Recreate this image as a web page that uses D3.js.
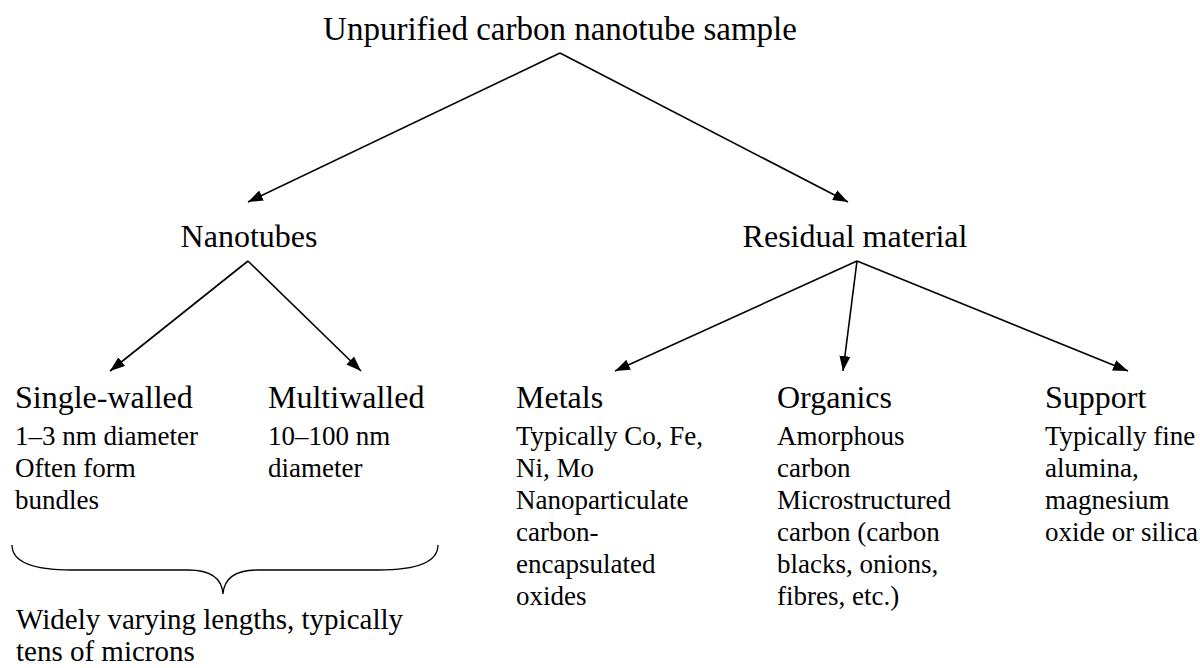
<!DOCTYPE html>
<html>
<head>
<meta charset="utf-8">
<title>carbon nanotube sample</title>
<script src="https://d3js.org/d3.v7.min.js"></script>
<style>
  body { margin: 0; background: #fff; }
  text { font-family: "Liberation Serif", "Times New Roman", serif; fill: #000; }
</style>
</head>
<body>
<svg width="1200" height="668"></svg>
<script>
// data
var title = "Unpurified carbon nanotube sample";
var groups = ["Nanotubes", "Residual material"];
var types = ["Single-walled", "Multiwalled", "Metals", "Organics", "Support"];
var typeGroup = [0, 0, 1, 1, 1];
var typeNotes = [
  ["1\u20133 nm diameter", "Often form", "bundles"],
  ["10\u2013100 nm", "diameter"],
  ["Typically Co, Fe,", "Ni, Mo", "Nanoparticulate", "carbon-", "encapsulated", "oxides"],
  ["Amorphous", "carbon", "Microstructured", "carbon (carbon", "blacks, onions,", "fibres, etc.)"],
  ["Typically fine", "alumina,", "magnesium", "oxide or silica"]
];
var braceNote = ["Widely varying lengths, typically", "tens of microns"];

var svg = d3.select("svg");

// layout scales
var levelY = d3.scaleOrdinal().domain([0, 1, 2]).range([40, 247, 408]);
var groupX = d3.scaleOrdinal().domain(groups).range([249, 855]);
var typeX = d3.scaleOrdinal().domain(types).range([15, 268, 516, 777, 1045]);
var groupTipX = d3.scaleOrdinal().domain(groups).range([248, 848]);
var typeTipX = d3.scaleOrdinal().domain(types).range([110, 361, 615, 843, 1128]);
var noteY = d3.scaleLinear().domain([0, 1]).range([445, 477]);

svg.append("defs").append("marker")
  .attr("id", "head")
  .attr("markerUnits", "userSpaceOnUse")
  .attr("viewBox", "0 0 15 11")
  .attr("refX", 15).attr("refY", 5.5)
  .attr("markerWidth", 15).attr("markerHeight", 11)
  .attr("orient", "auto")
  .append("path")
  .attr("d", "M0,0 L15,5.5 L0,11 Z")
  .attr("fill", "#000");

// title
var rootX = 560;
svg.append("text")
  .attr("x", rootX).attr("y", levelY(0))
  .attr("text-anchor", "middle")
  .attr("font-size", 33)
  .text(title);

// links root -> groups
var linkG = svg.append("g")
  .attr("stroke", "#000").attr("stroke-width", 1.6).attr("fill", "none");

linkG.selectAll("line.g")
  .data(groups)
  .enter().append("line")
  .attr("class", "g")
  .attr("x1", rootX).attr("y1", levelY(0) + 13)
  .attr("x2", function(d) { return groupTipX(d); })
  .attr("y2", levelY(1) - 45)
  .attr("marker-end", "url(#head)");

svg.selectAll("text.group")
  .data(groups)
  .enter().append("text")
  .attr("class", "group")
  .attr("x", function(d) { return groupX(d); })
  .attr("y", levelY(1))
  .attr("text-anchor", "middle")
  .attr("font-size", 32)
  .text(function(d) { return d; });

// links groups -> types
linkG.selectAll("line.t")
  .data(types)
  .enter().append("line")
  .attr("class", "t")
  .attr("x1", function(d, i) { return groupX(groups[typeGroup[i]]) + (typeGroup[i] ? 2 : -1); })
  .attr("y1", levelY(1) + 14)
  .attr("x2", function(d) { return typeTipX(d); })
  .attr("y2", levelY(2) - 37)
  .attr("marker-end", "url(#head)");

var typeG = svg.selectAll("g.type")
  .data(types)
  .enter().append("g")
  .attr("class", "type")
  .attr("transform", function(d) { return "translate(" + typeX(d) + ",0)"; });

typeG.append("text")
  .attr("y", levelY(2))
  .attr("font-size", 32)
  .text(function(d) { return d; });

typeG.selectAll("text.note")
  .data(function(d, i) { return typeNotes[i]; })
  .enter().append("text")
  .attr("class", "note")
  .attr("y", function(d, j) { return noteY(j); })
  .attr("font-size", 27)
  .text(function(d) { return d; });

// brace under the two nanotube types
var bx0 = 12, bx1 = 438, by = 545;
var bm = (bx0 + bx1) / 2 - 2;
var brace = d3.path();
brace.moveTo(bx0, by);
brace.bezierCurveTo(bx0, by + 18, bx0 + 25, by + 25, bx0 + 60, by + 25);
brace.lineTo(bm - 35, by + 25);
brace.bezierCurveTo(bm - 12, by + 25, bm - 1, by + 34, bm, by + 49);
brace.bezierCurveTo(bm + 1, by + 34, bm + 12, by + 25, bm + 35, by + 25);
brace.lineTo(bx1 - 60, by + 25);
brace.bezierCurveTo(bx1 - 25, by + 25, bx1, by + 18, bx1, by);
svg.append("path")
  .attr("d", brace.toString())
  .attr("fill", "none").attr("stroke", "#000").attr("stroke-width", 1.3);

svg.selectAll("text.brace")
  .data(braceNote)
  .enter().append("text")
  .attr("class", "brace")
  .attr("x", 16)
  .attr("y", function(d, i) { return 629 + i * 32; })
  .attr("font-size", 29)
  .text(function(d) { return d; });
</script>
</body>
</html>
